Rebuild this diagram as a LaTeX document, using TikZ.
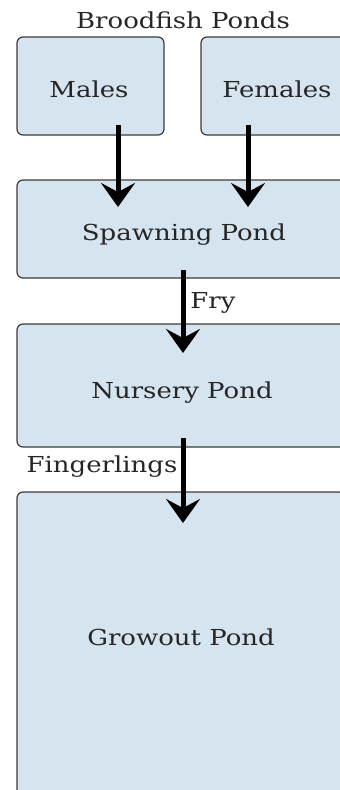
\documentclass[tikz,border=0pt]{standalone}
\usepackage{fontspec}
\setmainfont{DejaVu Serif}[FakeStretch=1.18]
\usetikzlibrary{arrows.meta}
\definecolor{boxfill}{HTML}{D5E4EE}
\definecolor{boxline}{HTML}{3A3A3A}
\tikzset{
  pond/.style={draw=boxline, fill=boxfill, line width=1.2pt, rounded corners=6pt, inner sep=0pt},
  lbl/.style={font=\fontsize{22}{26}\selectfont, text=black!85, inner sep=0pt, anchor=center},
  flow/.style={line width=5pt, -{Stealth[length=24pt,width=34pt,inset=9pt]}}
}
\begin{document}
\begin{tikzpicture}[x=1pt,y=-1pt]
\useasboundingbox (0,0) rectangle (340,790);
\clip (0,0) rectangle (340,790);
\node[lbl] (title) at (183,20) {Broodfish Ponds};
\node[pond, minimum width=147pt, minimum height=98pt] (males) at (90.5,86) {};
\node[pond, minimum width=152pt, minimum height=98pt] (females) at (277,86) {};
\node[lbl] (maleslbl) at (89,89) {Males};
\node[lbl] (femaleslbl) at (277,89) {Females};
\node[pond, minimum width=334pt, minimum height=98pt] (spawn) at (184,229) {};
\node[lbl] (spawnlbl) at (184,235) {Spawning Pond};
\node[pond, minimum width=330pt, minimum height=123pt] (nursery) at (182,385.5) {};
\node[lbl] (nurserylbl) at (182,393) {Nursery Pond};
\node[pond, minimum width=328pt, minimum height=320pt] (grow) at (181,652) {};
\node[lbl] (growlbl) at (181,637) {Growout Pond};
\coordinate (m1) at (118,125);
\coordinate (m2) at (118,207);
\coordinate (f1) at (248,125);
\coordinate (f2) at (248,207);
\coordinate (s1) at (183,270);
\coordinate (s2) at (183,353);
\coordinate (n1) at (183,438);
\coordinate (n2) at (183,523);
\draw[flow] (m1) -- (m2);
\draw[flow] (f1) -- (f2);
\draw[flow] (s1) -- (s2);
\draw[flow] (n1) -- (n2);
\node[lbl] (fry) at (213,303) {Fry};
\node[lbl] (fing) at (102,467) {Fingerlings};
\end{tikzpicture}
\end{document}
